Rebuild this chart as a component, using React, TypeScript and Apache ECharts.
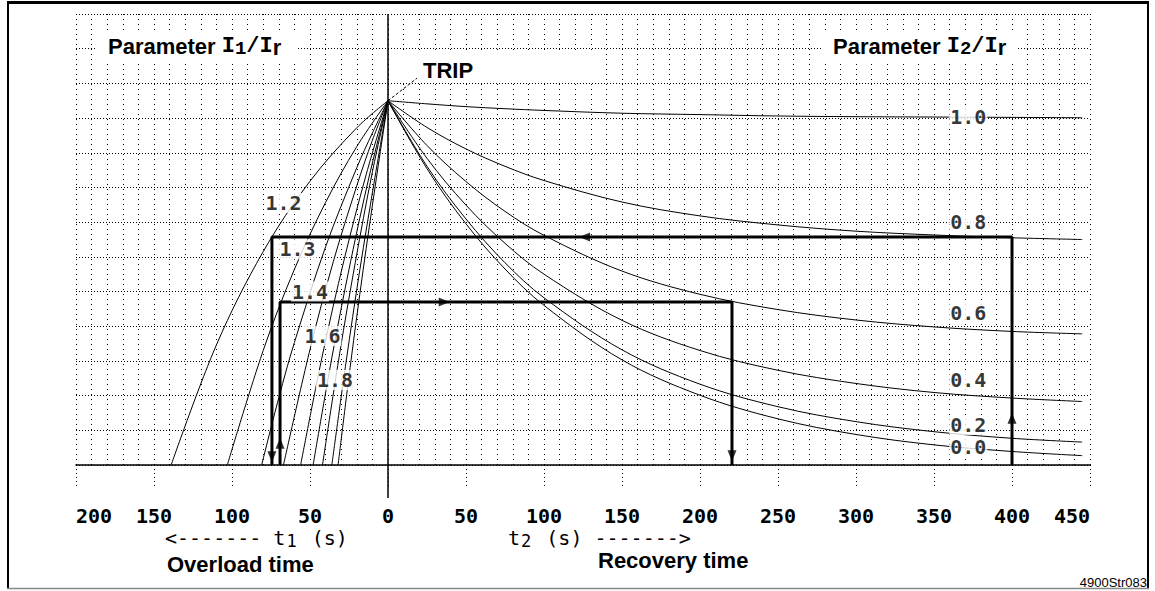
import React, { useEffect, useRef } from "react";
import * as echarts from "echarts";

// ---------- data (x = time in s, negative = overload time t1 before TRIP; y = thermal level, TRIP = 1.05) ----------
const heatLabels = ["1.2", "1.3", "1.4", "1.5", "1.6", "1.7", "1.8", "1.9", "2.0"];
const heat12 = [[-139, 0], [-110, 0.346], [-80, 0.615], [-50, 0.818], [-20, 0.972], [0, 1.05]];
const heat13 = [[-103, 0], [-80, 0.33], [-60, 0.564], [-40, 0.757], [-20, 0.918], [0, 1.05]];
const heat14 = [[-81, 0], [-70, 0.194], [-60, 0.353], [-40, 0.629], [-20, 0.857], [-10, 0.957], [0, 1.05]];
const heat15 = [[-67, 0], [-50, 0.333], [-35, 0.587], [-20, 0.805], [-10, 0.936], [0, 1.05]];
const heat16 = [[-56, 0], [-42, 0.317], [-28, 0.594], [-14, 0.837], [0, 1.05]];
const heat17 = [[-48, 0], [-36, 0.309], [-24, 0.586], [-12, 0.833], [0, 1.05]];
const heat18 = [[-42, 0], [-31, 0.321], [-21, 0.583], [-10, 0.845], [0, 1.05]];
const heat19 = [[-36, 0], [-27, 0.293], [-18, 0.564], [-9, 0.812], [0, 1.05]];
const heat20 = [[-32, 0], [-24, 0.291], [-16, 0.56], [-8, 0.81], [0, 1.05]];
const heatCurves = [heat12, heat13, heat14, heat15, heat16, heat17, heat18, heat19, heat20];

const recTimes = [0, 25, 50, 75, 100, 150, 200, 250, 300, 350, 400, 445];
const rec10 = [1.05, 1.041, 1.033, 1.027, 1.022, 1.014, 1.01, 1.006, 1.004, 1.003, 1.002, 1.001];
const rec08 = [1.05, 0.973, 0.911, 0.861, 0.82, 0.758, 0.718, 0.692, 0.674, 0.663, 0.655, 0.65];
const rec06 = [1.05, 0.921, 0.817, 0.731, 0.662, 0.559, 0.492, 0.448, 0.418, 0.398, 0.385, 0.378];
const rec04 = [1.05, 0.884, 0.749, 0.639, 0.55, 0.417, 0.33, 0.273, 0.235, 0.209, 0.193, 0.183];
const rec02 = [1.05, 0.861, 0.709, 0.583, 0.482, 0.332, 0.233, 0.168, 0.125, 0.096, 0.077, 0.066];
const rec00 = [1.05, 0.854, 0.695, 0.565, 0.46, 0.303, 0.201, 0.133, 0.088, 0.058, 0.039, 0.027];
const recCurves = [rec10, rec08, rec06, rec04, rec02, rec00];

// curve parameter labels: [text, t, level]
const heatParamLabels = [["1.2", -67, 0.755], ["1.3", -58, 0.622], ["1.4", -50, 0.5], ["1.6", -42, 0.372], ["1.8", -34, 0.245]];
const recParamLabels = [["1.0", 372, 1.003], ["0.8", 372, 0.7], ["0.6", 372, 0.438], ["0.4", 372, 0.245], ["0.2", 372, 0.115], ["0.0", 372, 0.052]];

// example paths (thick lines)
const pathA = [[400, 0], [400, 0.657], [-74.4, 0.657], [-74.4, 0]];
const pathB = [[-69.2, 0], [-69.2, 0.47], [220.5, 0.47], [220.5, 0]];
// arrow heads: [t, level, rotation deg]
const arrows = [[400, 0.135, 0], [126, 0.657, 90], [-74.4, 0.024, 180], [-69.2, 0.063, 0], [36, 0.47, -90], [220.5, 0.027, 180]];
const tripLeader = [[0, 1.05], [18.6, 1.115]];

const X_MIN = -200, X_MAX = 450, X_STEP = 50;
const Y_MIN = 0, Y_MAX = 1.3, Y_STEP = 0.1;

const MONO = '"DejaVu Sans Mono", monospace';
const SANS = '"Liberation Sans", Arial, sans-serif';
const LMONO = '"Liberation Mono", monospace';

export default function App() {
  const ref = useRef<HTMLDivElement>(null);
  useEffect(() => {
    const chart = echarts.init(ref.current!, null, { renderer: "svg" });
    const thin = (data: any, name: string) => ({
      type: "line", name, data, smooth: 0.35, symbol: "none", showSymbol: false,
      lineStyle: { color: "#000", width: 1 }, z: 2, silent: true,
    });
    const series: any[] = [];
    heatCurves.forEach((c, i) => series.push(thin(c, "I1/Ir " + heatLabels[i])));
    recCurves.forEach((c, i) =>
      series.push(thin(recTimes.map((t, k) => [t, c[k]]), "I2/Ir " + recParamLabels[i][0]))
    );
    series.push({
      type: "line", data: tripLeader, symbol: "none", silent: true, z: 3,
      lineStyle: { color: "#000", width: 1, type: [3, 2] },
    });
    [pathA, pathB].forEach((p) =>
      series.push({ type: "line", data: p, symbol: "none", silent: true, z: 4, lineStyle: { color: "#000", width: 3 } })
    );
    series.push({
      type: "scatter", silent: true, z: 5, symbol: "triangle", symbolSize: [9, 11],
      itemStyle: { color: "#000" },
      data: arrows.map((a) => ({ value: [a[0], a[1]], symbolRotate: a[2] })),
    });
    series.push({
      type: "scatter", silent: true, z: 6, symbolSize: 0,
      data: [...heatParamLabels, ...recParamLabels].map((l) => ({ name: l[0], value: [l[1], l[2]] })),
      label: {
        show: true, position: "inside", formatter: "{b}", color: "#000",
        fontFamily: MONO, fontWeight: "bold", fontSize: 20, backgroundColor: "#fff", padding: [0, 1],
      },
    });

    chart.setOption({
      animation: false,
      backgroundColor: "#fff",
      grid: { left: 76, right: 65, top: 14, bottom: 126, containLabel: false },
      xAxis: {
        type: "value", min: X_MIN, max: X_MAX, interval: X_STEP,
        axisLine: { onZero: false, lineStyle: { color: "#000", width: 1.5 } },
        axisTick: { show: true, length: 23, lineStyle: { color: "#000", type: [1, 3] } },
        axisLabel: {
          margin: 41, color: "#000", fontFamily: MONO, fontWeight: "bold", fontSize: 20,
          formatter: (v: number) => String(Math.abs(v)),
          alignMinLabel: "left", alignMaxLabel: "right",
        },
        splitLine: { show: true, lineStyle: { color: "#000", width: 1, type: [1, 4] } },
        minorTick: { show: false, splitNumber: 5 },
        minorSplitLine: { show: true, lineStyle: { color: "#000", width: 1, type: [1, 4] } },
      },
      yAxis: {
        type: "value", min: Y_MIN, max: Y_MAX, interval: Y_STEP,
        axisLine: { show: false }, axisTick: { show: false }, axisLabel: { show: false },
        splitLine: { show: true, lineStyle: { color: "#000", width: 1, type: [1, 2] } },
      },
      series,
    });

    const P = (x: number, y: number) => chart.convertToPixel({ gridIndex: 0 } as any, [x, y]) as number[];
    const top = P(0, Y_MAX), bot = P(0, 0);
    const white = (x: number, y: number, w: number, h: number) => ({
      type: "rect", z: 1, shape: { x, y, width: w, height: h }, style: { fill: "#fff" }, silent: true,
    });
    const richParam = (sub: string) => ({
      text: `{a|Parameter }{m|I}{s|${sub}}{m|/I}{r|r}`,
      align: "left", verticalAlign: "middle",
      rich: {
        a: { fontFamily: SANS, fontWeight: "bold", fontSize: 22, fill: "#000", lineHeight: 24 },
        m: { fontFamily: LMONO, fontWeight: "bold", fontSize: 22, fill: "#000", lineHeight: 24 },
        s: { fontFamily: LMONO, fontWeight: "bold", fontSize: 19, fill: "#000", lineHeight: 20, verticalAlign: "bottom" },
        r: { fontFamily: SANS, fontWeight: "bold", fontSize: 22, fill: "#000", lineHeight: 16, verticalAlign: "bottom" },
      },
    });
    const richT = (pre: string, sub: string, post: string) => ({
      text: `{m|${pre}}{s|${sub}}{m|${post}}`,
      align: "left", verticalAlign: "middle",
      rich: {
        m: { fontFamily: MONO, fontSize: 20, fill: "#000", lineHeight: 22 },
        s: { fontFamily: MONO, fontSize: 17, fill: "#000", lineHeight: 14, verticalAlign: "bottom", padding: [0, 3, 0, 1] },
      },
    });

    chart.setOption({
      graphic: [
        white(97, 33, 199, 31),
        white(823, 33, 195, 31),
        white(390, 51, 213, 30),
        { type: "text", z: 10, x: 108, y: 46, style: richParam("1") },
        { type: "text", z: 10, x: 833, y: 46, style: richParam("2") },
        { type: "text", z: 10, x: 423, y: 70, style: { text: "TRIP", fontFamily: SANS, fontWeight: "bold", fontSize: 22, fill: "#000", verticalAlign: "middle" } },
        { type: "line", z: 5, silent: true, shape: { x1: top[0], y1: top[1], x2: bot[0], y2: bot[1] + 33 }, style: { stroke: "#000", lineWidth: 1.5 } },
        { type: "text", z: 10, x: 165, y: 538, style: richT("<------- t", "1", " (s)") },
        { type: "text", z: 10, x: 508, y: 538, style: richT("t", "2", " (s) ------->") },
        { type: "text", z: 10, x: 167, y: 564, style: { text: "Overload time", fontFamily: SANS, fontWeight: "bold", fontSize: 22, fill: "#000", verticalAlign: "middle" } },
        { type: "text", z: 10, x: 598, y: 560, style: { text: "Recovery time", fontFamily: SANS, fontWeight: "bold", fontSize: 22, fill: "#000", verticalAlign: "middle" } },
        { type: "text", z: 10, x: 1147, y: 582, style: { text: "4900Str083", fontFamily: SANS, fontSize: 13, fill: "#000", align: "right", verticalAlign: "middle" } },
        { type: "line", z: 10, shape: { x1: 7, y1: 2.5, x2: 1149, y2: 2.5 }, style: { stroke: "#000", lineWidth: 3 } },
        { type: "line", z: 10, shape: { x1: 8, y1: 1, x2: 8, y2: 589 }, style: { stroke: "#000", lineWidth: 2 } },
        { type: "line", z: 10, shape: { x1: 1148, y1: 1, x2: 1148, y2: 589 }, style: { stroke: "#000", lineWidth: 2 } },
        { type: "line", z: 10, shape: { x1: 7, y1: 588.5, x2: 1149, y2: 588.5 }, style: { stroke: "#888", lineWidth: 1.5 } },
      ],
    });
    return () => chart.dispose();
  }, []);
  return (
    <div
      ref={ref}
      style={{ position: "fixed", left: 0, top: 0, width: 1155, height: 591, background: "#fff" }}
    />
  );
}
